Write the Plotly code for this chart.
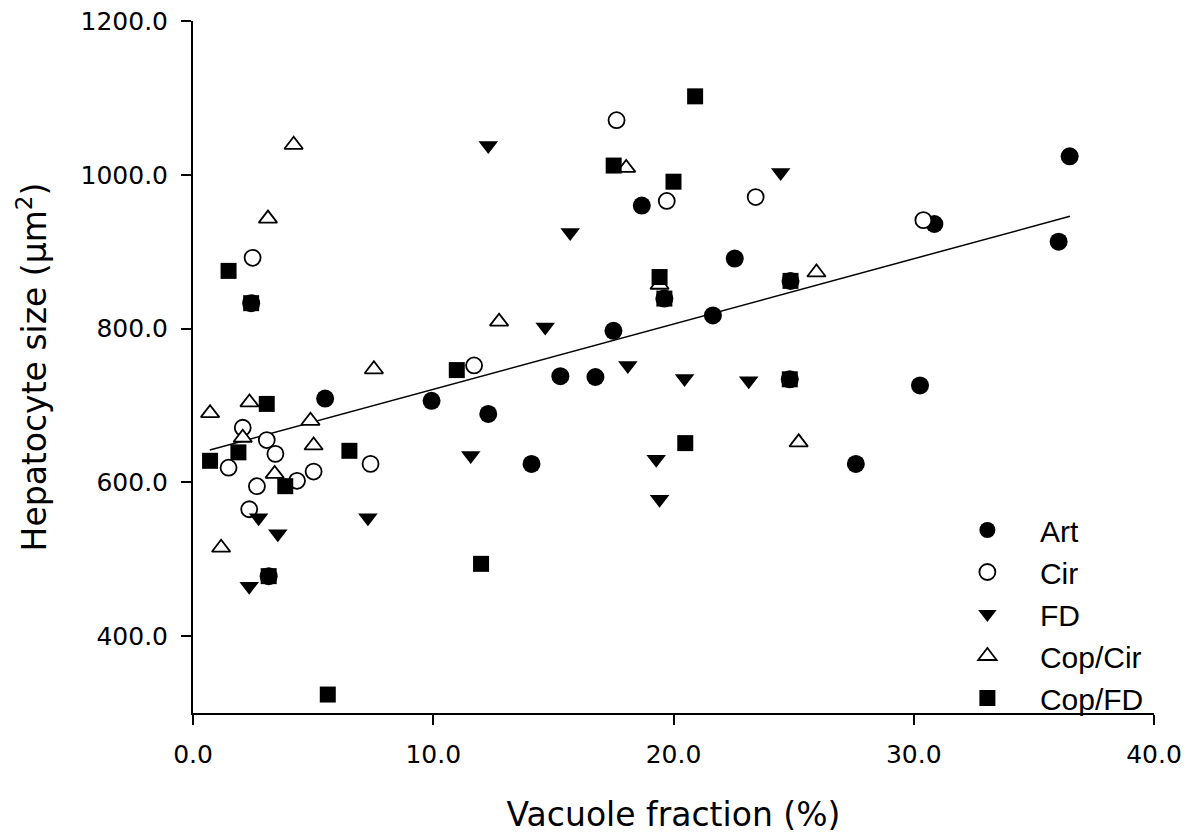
import plotly.graph_objects as go

# values
art_x = [5.5, 3.15, 2.42, 9.93, 12.29, 14.09, 15.29, 16.75, 17.5, 18.68,
         19.62, 21.64, 22.55, 24.87, 24.84, 27.59, 30.26, 30.86, 36.03, 36.49]
art_y = [709, 478, 833, 706, 689, 624, 738, 737, 797, 960,
         839, 817, 891, 862, 734, 624, 726, 936, 913, 1024]

cir_x = [2.07, 3.07, 3.43, 1.48, 7.39, 5.02, 2.66, 4.33, 2.34, 2.48,
         11.7, 17.63, 19.72, 23.42, 30.4]
cir_y = [671, 655, 637, 619, 624, 614, 595, 602, 565, 892,
         752, 1071, 966, 971, 941]

fd_x = [2.73, 7.28, 3.53, 2.34, 12.29, 24.46, 15.7, 14.66, 18.1, 20.46,
        23.13, 11.56, 19.28, 19.42]
fd_y = [554, 554, 533, 465, 1038, 1003, 925, 802, 752, 735,
        732, 635, 630, 578]

copcir_x = [0.71, 2.35, 2.07, 4.89, 5.02, 3.40, 1.17, 7.53, 3.12, 4.19,
            18.03, 19.42, 12.74, 25.21, 25.95]
copcir_y = [690, 704, 658, 680, 648, 611, 515, 747, 943, 1039,
            1009, 857, 809, 652, 873]

copfd_x = [3.07, 1.89, 6.51, 0.71, 3.84, 3.15, 5.61, 1.48, 2.42, 20.9,
           17.51, 20.0, 19.42, 19.62, 24.87, 10.98, 24.84, 20.49, 11.99]
copfd_y = [702, 639, 641, 628, 595, 478, 324, 875, 833, 1102,
           1012, 991, 867, 839, 862, 746, 734, 651, 494]

# regression line end points
fit_x = [0.7, 36.5]
fit_y = [642, 946]

fig = go.Figure()

fig.add_trace(go.Scatter(x=fit_x, y=fit_y, mode='lines',
                         line=dict(color='black', width=1.5), showlegend=False))

def add_group(name, xs, ys, symbol, size, filled):
    if filled:
        marker = dict(symbol=symbol, size=size, color='black',
                      line=dict(width=0))
    else:
        marker = dict(symbol=symbol, size=size, color='white',
                      line=dict(color='black', width=1.8))
    fig.add_trace(go.Scatter(x=xs, y=ys, mode='markers', name=name,
                             marker=marker))

add_group('Art', art_x, art_y, 'circle', 18, True)
add_group('Cir', cir_x, cir_y, 'circle', 16, False)
add_group('FD', fd_x, fd_y, 'triangle-down', 17, True)
add_group('Cop/Cir', copcir_x, copcir_y, 'triangle-up', 16, False)
add_group('Cop/FD', copfd_x, copfd_y, 'square', 16, True)

axis_font = dict(family='Verdana, DejaVu Sans', size=25, color='black')
title_font = dict(family='Verdana, DejaVu Sans', size=33, color='black')

fig.update_layout(
    width=1193, height=834,
    margin=dict(l=193, r=39, t=21, b=121, autoexpand=False),
    paper_bgcolor='white', plot_bgcolor='white',
    legend=dict(x=0.772, y=0.302, xanchor='left', yanchor='top',
                font=dict(family='Arial, Liberation Sans', size=30, color='black'),
                itemwidth=95, bgcolor='rgba(0,0,0,0)'),
    xaxis=dict(range=[0, 40], dtick=10, tickformat='.1f',
               showgrid=False, zeroline=False,
               showline=True, linecolor='black', linewidth=2,
               ticks='outside', ticklen=10, tickwidth=1.5, tickcolor='black',
               tickfont=axis_font, ticklabelstandoff=8,
               title=dict(text='Vacuole fraction (%)', font=title_font, standoff=37)),
    yaxis=dict(range=[300, 1200], tick0=0, dtick=200, tickformat='.1f',
               showgrid=False, zeroline=False,
               showline=True, linecolor='black', linewidth=2,
               ticks='outside', ticklen=10, tickwidth=1.5, tickcolor='black',
               tickfont=axis_font, ticklabelstandoff=8,
               title=dict(text='Hepatocyte size (µm<sup>2</sup>)', font=title_font,
                          standoff=24)),
)

fig.write_html("out.html", config={'displayModeBar': False},
               post_script="document.body.style.margin='0';"
                           "document.body.style.overflow='hidden';")
